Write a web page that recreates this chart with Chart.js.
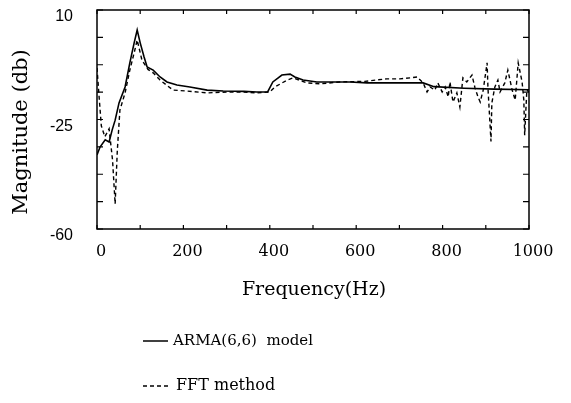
<!DOCTYPE html>
<html>
<head>
<meta charset="utf-8">
<script src="https://cdn.jsdelivr.net/npm/chart.js@4/dist/chart.umd.min.js"></script>
<style>
  html, body { margin: 0; padding: 0; background: #fff; }
  #wrap { width: 571px; height: 403px; }
</style>
</head>
<body>
<div id="wrap"><canvas id="spectrumChart"></canvas></div>
<script>
// ARMA(6,6) model (solid)
const armaFreq = [0, 7, 19, 28, 35, 42, 51, 65, 76, 86, 93, 100, 109, 116, 130, 146, 162, 185, 215, 255, 292, 340, 370, 395, 407, 428, 447, 458, 477, 509, 556, 586, 625, 655, 700, 755, 780, 850, 920, 1000];
const armaDb = [-36.3, -33.8, -31.5, -32.2, -28.4, -25.2, -19.7, -14.6, -6.9, -0.5, 3.6, -0.5, -5.0, -8.2, -9.2, -11.4, -13.0, -14.0, -14.6, -15.6, -15.9, -16.0, -16.2, -16.2, -13.0, -10.8, -10.5, -11.4, -12.4, -13.0, -13.0, -13.0, -13.3, -13.3, -13.3, -13.3, -14.5, -15.0, -15.3, -15.5];

// FFT method (dashed)
const fftFreq = [0, 5, 10, 18, 28, 36, 42, 47, 53, 65, 76, 86, 93, 104, 118, 130, 146, 176, 208, 255, 301, 331, 370, 400, 412, 440, 454, 486, 516, 562, 620, 671, 701, 725, 741, 755, 764, 771, 782, 789, 799, 806, 813, 817, 824, 833, 840, 847, 856, 868, 875, 882, 887, 894, 903, 905, 912, 914, 921, 928, 933, 944, 951, 961, 968, 975, 984, 988, 990, 995, 1000];
const fftDb = [-8.5, -18, -27, -30.5, -28, -38, -52, -35, -22, -16.5, -9.2, -3.7, 0.4, -6.0, -9.0, -10.1, -12.4, -15.6, -15.9, -16.5, -16.2, -16.2, -16.5, -16.2, -14.6, -12.4, -11.7, -13.3, -13.6, -13.0, -12.8, -12.0, -12.0, -11.7, -11.4, -13.3, -16.2, -14.6, -15.6, -13.3, -16.2, -14.6, -17.8, -13.0, -19.4, -16.5, -21.0, -11.7, -13.0, -10.8, -14.9, -17.8, -19.4, -15.6, -6.9, -14.9, -32.0, -19.7, -14.6, -12.4, -16.2, -13.3, -9.2, -15.6, -18.8, -6.9, -13.0, -18.8, -30.0, -15.6, -16.2];

const xTickLabels = [0, 200, 400, 600, 800, 1000];
const yTickLabels = [10, -25, -60];

const serif = '"DejaVu Serif", "Liberation Serif", serif';
const sans = '"Liberation Sans", Arial, sans-serif';

// frame, inward ticks, titles and legend
const framePlugin = {
  id: "framePlugin",
  afterDraw(chart) {
    const ctx = chart.ctx;
    const a = chart.chartArea;
    const xs = chart.scales.x;
    const ys = chart.scales.y;
    ctx.save();
    ctx.strokeStyle = "#000";
    ctx.lineWidth = 1.5;
    ctx.strokeRect(a.left, a.top, a.right - a.left, a.bottom - a.top);

    ctx.lineWidth = 1.2;
    ctx.beginPath();
    xs.ticks.forEach(t => {
      const px = xs.getPixelForValue(t.value);
      ctx.moveTo(px, a.bottom); ctx.lineTo(px, a.bottom - 4);
      ctx.moveTo(px, a.top); ctx.lineTo(px, a.top + 4);
    });
    ys.ticks.forEach(t => {
      const py = ys.getPixelForValue(t.value);
      ctx.moveTo(a.left, py); ctx.lineTo(a.left + 6, py);
      ctx.moveTo(a.right, py); ctx.lineTo(a.right - 6, py);
    });
    ctx.stroke();

    ctx.fillStyle = "#000";
    ctx.textAlign = "center";
    ctx.textBaseline = "middle";
    ctx.font = "19px " + serif;
    ctx.fillText("Frequency(Hz)", 314, 290);

    ctx.save();
    ctx.translate(22, 132);
    ctx.rotate(-Math.PI / 2);
    ctx.font = "21px " + serif;
    ctx.fillText("Magnitude (db)", 0, 0);
    ctx.restore();

    // legend
    ctx.font = "15px " + serif;
    ctx.textAlign = "left";
    ctx.lineWidth = 1.5;
    ctx.beginPath();
    ctx.moveTo(143, 341); ctx.lineTo(168, 341);
    ctx.stroke();
    ctx.fillText("ARMA(6,6)  model", 173, 341);

    ctx.setLineDash([4, 3]);
    ctx.beginPath();
    ctx.moveTo(143, 386); ctx.lineTo(171, 386);
    ctx.stroke();
    ctx.setLineDash([]);
    ctx.font = "16px " + serif;
    ctx.fillText("FFT method", 176, 386);
    ctx.restore();
  }
};

new Chart(document.getElementById("spectrumChart"), {
  type: "line",
  data: {
    datasets: [
      {
        label: "ARMA(6,6) model",
        data: armaFreq.map((f, i) => ({ x: f, y: armaDb[i] })),
        borderColor: "#000",
        borderWidth: 1.6,
        pointRadius: 0,
        tension: 0
      },
      {
        label: "FFT method",
        data: fftFreq.map((f, i) => ({ x: f, y: fftDb[i] })),
        borderColor: "#000",
        borderWidth: 1.4,
        borderDash: [4, 3],
        pointRadius: 0,
        tension: 0
      }
    ]
  },
  options: {
    responsive: true,
    maintainAspectRatio: false,
    animation: false,
    layout: { padding: { top: 10, right: 42, left: 0, bottom: 0 } },
    plugins: {
      legend: { display: false },
      tooltip: { enabled: false }
    },
    scales: {
      x: {
        type: "linear",
        min: 0,
        max: 1000,
        grid: { display: false },
        border: { display: false },
        afterFit: s => {
          s.height = 174;
          s.paddingLeft = 0; s.paddingRight = 0;
        },
        ticks: {
          stepSize: 100,
          autoSkip: false,
          maxRotation: 0,
          padding: 5,
          labelOffset: 4,
          color: "#000",
          font: { family: serif, size: 16 },
          callback: v => xTickLabels.includes(v) ? String(v) : ""
        }
      },
      y: {
        min: -60,
        max: 10,
        grid: { display: false },
        border: { display: false },
        afterFit: s => {
          s.width = 97;
          s.paddingTop = 0; s.paddingBottom = 0;
        },
        ticks: {
          stepSize: 8.75,
          autoSkip: false,
          padding: 16,
          labelOffset: 7,
          color: "#000",
          font: { family: sans, size: 16 },
          callback: v => {
            const r = Math.round(v * 100) / 100;
            return yTickLabels.includes(r) ? String(r) : "";
          }
        }
      }
    }
  },
  plugins: [framePlugin]
});
</script>
</body>
</html>
